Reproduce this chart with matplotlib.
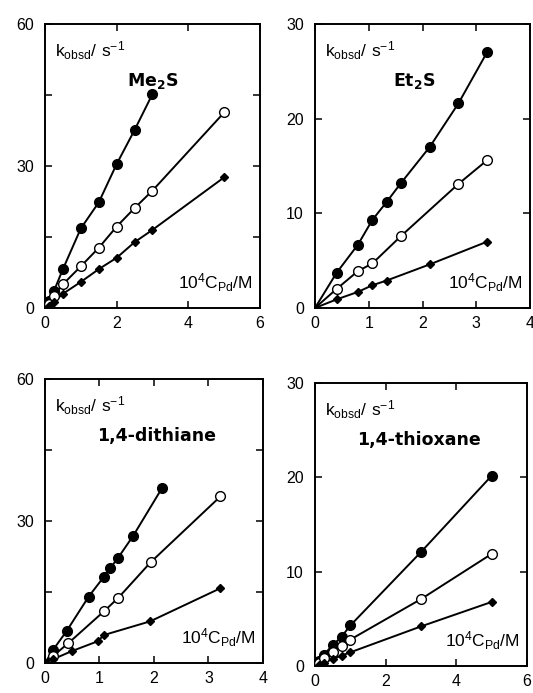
import matplotlib
matplotlib.use('Agg')
import matplotlib.pyplot as plt
from matplotlib.ticker import MultipleLocator, FixedFormatter, FixedLocator

plt.rcParams['font.family'] = ['Liberation Sans', 'DejaVu Sans']
plt.rcParams['mathtext.fontset'] = 'custom'
plt.rcParams['mathtext.rm'] = 'Liberation Sans'

# Me2S
me2s_full_x = [0.1, 0.25, 0.5, 1.0, 1.5, 2.0, 2.5, 3.0]
me2s_full_y = [1.4, 3.6, 8.2, 16.8, 22.3, 30.4, 37.6, 45.2]
me2s_open_x = [0.1, 0.25, 0.5, 1.0, 1.5, 2.0, 2.5, 3.0, 5.0]
me2s_open_y = [0.8, 2.6, 5.0, 8.8, 12.7, 17.2, 21.1, 24.8, 41.3]
me2s_diam_x = [0.1, 0.25, 0.5, 1.0, 1.5, 2.0, 2.5, 3.0, 5.0]
me2s_diam_y = [0.5, 1.3, 3.0, 5.5, 8.2, 10.6, 13.9, 16.5, 27.6]

# Et2S
et2s_full_x = [0.4, 0.8, 1.067, 1.333, 1.6, 2.133, 2.667, 3.2]
et2s_full_y = [3.7, 6.7, 9.3, 11.2, 13.2, 17.0, 21.6, 27.0]
et2s_open_x = [0.4, 0.8, 1.067, 1.6, 2.667, 3.2]
et2s_open_y = [2.0, 3.9, 4.7, 7.6, 13.1, 15.6]
et2s_diam_x = [0.4, 0.8, 1.067, 1.333, 2.133, 3.2]
et2s_diam_y = [0.9, 1.7, 2.4, 2.9, 4.6, 7.0]

# 1,4-dithiane
dith_full_x = [0.15, 0.4, 0.8, 1.08, 1.2, 1.34, 1.62, 2.15]
dith_full_y = [2.8, 6.8, 14.0, 18.2, 20.1, 22.2, 26.9, 37.0]
dith_open_x = [0.15, 0.43, 1.08, 1.34, 1.94, 3.22]
dith_open_y = [1.5, 4.2, 10.9, 13.7, 21.3, 35.2]
dith_diam_x = [0.15, 0.49, 0.97, 1.08, 1.93, 3.22]
dith_diam_y = [0.8, 2.5, 4.6, 5.9, 8.8, 15.8]

# 1,4-thioxane
thio_full_x = [0.1, 0.25, 0.5, 0.75, 1.0, 3.0, 5.0]
thio_full_y = [0.5, 1.2, 2.2, 3.1, 4.3, 12.1, 20.2]
thio_open_x = [0.1, 0.25, 0.5, 0.75, 1.0, 3.0, 5.0]
thio_open_y = [0.3, 0.8, 1.5, 2.1, 2.8, 7.1, 11.9]
thio_diam_x = [0.1, 0.25, 0.5, 0.75, 1.0, 3.0, 5.0]
thio_diam_y = [0.15, 0.35, 0.75, 1.1, 1.45, 4.2, 6.8]

names = ['Me$_{\\mathbf{2}}$S', 'Et$_{\\mathbf{2}}$S', '1,4-dithiane', '1,4-thioxane']

panels = [
    dict(rect=[0.0844, 0.5556, 0.4034, 0.4098], xmax=6, ymax=60, xstep=2, ystep=15,
         ylabels=['0', '', '30', '', '60'], name=names[0], namex=0.50,
         series=[(me2s_full_x, me2s_full_y), (me2s_open_x, me2s_open_y), (me2s_diam_x, me2s_diam_y)]),
    dict(rect=[0.591, 0.5556, 0.4034, 0.4098], xmax=4, ymax=30, xstep=1, ystep=10,
         ylabels=['0', '10', '20', '30'], name=names[1], namex=0.46,
         series=[(et2s_full_x, et2s_full_y), (et2s_open_x, et2s_open_y), (et2s_diam_x, et2s_diam_y)]),
    dict(rect=[0.0844, 0.0433, 0.409, 0.4098], xmax=4, ymax=60, xstep=1, ystep=15,
         ylabels=['0', '', '30', '', '60'], name=names[2], namex=0.51,
         series=[(dith_full_x, dith_full_y), (dith_open_x, dith_open_y), (dith_diam_x, dith_diam_y)]),
    dict(rect=[0.591, 0.039, 0.398, 0.408], xmax=6, ymax=30, xstep=2, ystep=10,
         ylabels=['0', '10', '20', '30'], name=names[3], namex=0.49,
         series=[(thio_full_x, thio_full_y), (thio_open_x, thio_open_y), (thio_diam_x, thio_diam_y)]),
]

styles = [
    dict(marker='o', ms=7, mfc='black', mec='black'),
    dict(marker='o', ms=7, mfc='white', mec='black', mew=1.0),
    dict(marker='D', ms=4, mfc='black', mec='black'),
]

fig = plt.figure(figsize=(5.33, 6.93), dpi=100)

for p in panels:
    ax = fig.add_axes(p['rect'])
    for (xs, ys), st in zip(p['series'], styles):
        ax.plot([0] + list(xs), [0] + list(ys), color='black', lw=1.4, zorder=2)
        ax.plot(xs, ys, ls='none', zorder=3, **st)
    ax.set_xlim(0, p['xmax'])
    ax.set_ylim(0, p['ymax'])
    ax.xaxis.set_major_locator(MultipleLocator(p['xstep']))
    ax.yaxis.set_major_locator(FixedLocator(list(range(0, p['ymax'] + 1, p['ystep']))))
    ax.yaxis.set_major_formatter(FixedFormatter(p['ylabels']))
    ax.tick_params(direction='in', top=True, right=True, length=5, width=1.1,
                   labelsize=11.5)
    ax.tick_params(axis='x', pad=6)
    ax.tick_params(axis='y', pad=8)
    for s in ax.spines.values():
        s.set_linewidth(1.4)
    ax.text(0.045, 0.905, r'$\mathregular{k_{obsd}/\ s^{-1}}$', transform=ax.transAxes,
            fontsize=12.5, ha='left', va='center')
    ax.text(p['namex'], 0.80, p['name'], transform=ax.transAxes, fontsize=12.5,
            fontweight='bold', family='DejaVu Sans', ha='center', va='center')
    ax.text(0.965, 0.09, r'$\mathregular{10^{4}C_{Pd}/M}$', transform=ax.transAxes,
            fontsize=12.5, ha='right', va='center')

fig.savefig('out.png', dpi=100)
